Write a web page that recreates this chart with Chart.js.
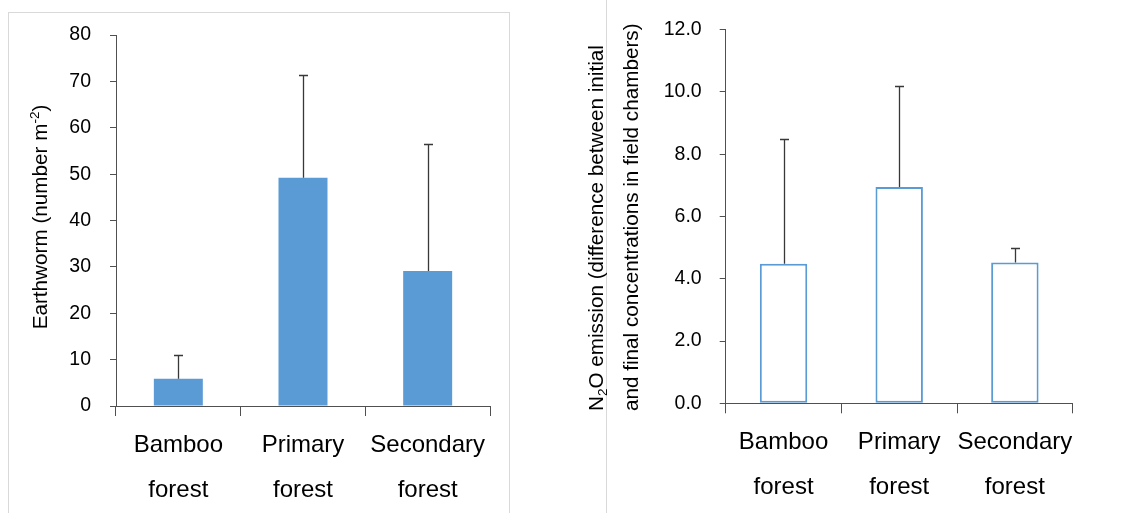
<!DOCTYPE html>
<html><head><meta charset="utf-8">
<script src="https://cdn.jsdelivr.net/npm/chart.js@4.4.1/dist/chart.umd.min.js"></script>
<style>
html,body{margin:0;padding:0;background:#fff;width:1133px;height:513px;overflow:hidden;position:relative}
#c1{position:absolute;left:0;top:0}
#c2{position:absolute;left:560px;top:0}
#box1{position:absolute;left:8px;top:12px;width:500px;height:520px;border:1px solid #d9d9d9;}
#line2{position:absolute;left:606px;top:0;width:1px;height:513px;background:#d9d9d9}
</style></head><body>
<div id="box1"></div><div id="line2"></div>
<canvas id="c1" width="560" height="513"></canvas>
<canvas id="c2" width="573" height="513"></canvas>
<script>
// ---- data ----
const categories = [["Bamboo","forest"],["Primary","forest"],["Secondary","forest"]];
const earthwormMeans = [5.9, 49.2, 29.1];
const earthwormErrors = [5.2, 22.2, 27.3];
const earthwormTicks = ["0","10","20","30","40","50","60","70","80"];
const n2oMeans = [4.48, 6.95, 4.52];
const n2oErrors = [4.0, 3.23, 0.46];
const n2oTicks = ["0.0","2.0","4.0","6.0","8.0","10.0","12.0"];

const FONT = '"Liberation Sans", Arial, sans-serif';
Chart.defaults.font.family = FONT;
Chart.defaults.color = '#000';
const AXIS = '#505050';

function errorBarPlugin(errors){
  return {
    id:'errorBars',
    afterDatasetsDraw(chart){
      const ctx = chart.ctx, y = chart.scales.y;
      const meta = chart.getDatasetMeta(0);
      const ds = chart.data.datasets[0];
      ctx.save();
      ctx.strokeStyle = '#383838'; ctx.lineWidth = 1.3;
      meta.data.forEach((bar,i)=>{
        const v = ds.data[i], e = errors[i];
        const yTop = Math.round(y.getPixelForValue(v+e))+0.5;
        const yBase = y.getPixelForValue(v);
        const x = Math.round(bar.x)+0.5;
        ctx.beginPath();
        ctx.moveTo(x, yBase); ctx.lineTo(x, yTop);
        ctx.moveTo(x-4.5, yTop); ctx.lineTo(x+4.5, yTop);
        ctx.stroke();
      });
      ctx.restore();
    }
  };
}

function titlePlugin(lines){
  return {
    id:'rotTitle',
    afterDraw(chart){
      const ctx = chart.ctx;
      lines.forEach(L=>{
        ctx.save();
        ctx.fillStyle = '#000';
        ctx.textBaseline = 'alphabetic';
        ctx.textAlign = 'left';
        let total = 0;
        L.segs.forEach(s=>{ ctx.font = s.size+'px '+FONT; total += ctx.measureText(s.t).width; });
        ctx.translate(L.x, L.y);
        ctx.rotate(-Math.PI/2);
        let cx = L.align==='center' ? -total/2 : 0;
        L.segs.forEach(s=>{
          ctx.font = s.size+'px '+FONT;
          ctx.fillText(s.t, cx, s.dy||0);
          cx += ctx.measureText(s.t).width;
        });
        ctx.restore();
      });
    }
  };
}

function makeChart(id, opts){
  return new Chart(document.getElementById(id), {
    type:'bar',
    data:{ labels: categories, datasets:[opts.dataset] },
    options:{
      responsive:false, animation:false,
      layout:{ padding: opts.padding },
      plugins:{ legend:{display:false}, tooltip:{enabled:false} },
      scales:{
        x:{
          grid:{ display:true, drawOnChartArea:false, drawTicks:true, tickLength:10, color:AXIS, offset:true },
          border:{ display:true, color:AXIS, width:1 },
          ticks:{ font:{size:24, lineHeight:1.875}, color:'#000', padding:opts.xPad, maxRotation:0, autoSkip:false },
          afterFit(s){ s.height = opts.xHeight; }
        },
        y:{
          min:0, max:opts.max,
          grid:{ display:true, drawOnChartArea:false, drawTicks:true, tickLength:6, color:AXIS },
          border:{ display:true, color:AXIS, width:1 },
          ticks:{ stepSize:opts.step, font:{size:19.5}, color:'#000', padding:opts.yPad,
                  callback:(v,i)=>opts.tickLabels[i] },
          afterFit(s){ s.width = opts.yWidth; }
        }
      }
    },
    plugins:[errorBarPlugin(opts.errors), titlePlugin(opts.titles)]
  });
}

makeChart('c1', {
  dataset:{ data: earthwormMeans, backgroundColor:'#5b9bd5', borderWidth:0,
            barPercentage:0.393, categoryPercentage:1 },
  errors: earthwormErrors,
  padding:{ top:35, right:70, bottom:0, left:0 },
  xHeight: 107, yWidth: 116, xPad: 7, yPad: 19,
  max:80, step:10, tickLabels: earthwormTicks,
  titles:[{ x:47, y:217, align:'center', segs:[
    {t:'Earthworm (number m', size:20.7},
    {t:'-2', size:13.5, dy:-8},
    {t:')', size:20.7}
  ]}]
});

makeChart('c2', {
  dataset:{ data: n2oMeans, backgroundColor:'#ffffff', borderColor:'#5b9bd5', borderWidth:2,
            borderSkipped:false, barPercentage:0.41, categoryPercentage:1 },
  errors: n2oErrors,
  padding:{ top:23.3, right:60.3, bottom:0, left:0 },
  xHeight: 109.7, yWidth: 165.7, xPad: 7, yPad: 18,
  max:12, step:2, tickLabels: n2oTicks,
  titles:[
    { x:43, y:411, align:'left', segs:[
      {t:'N', size:20.7},{t:'2', size:13.5, dy:4},{t:'O emission (difference between initial', size:20.7}
    ]},
    { x:78, y:411, align:'left', segs:[
      {t:'and final concentrations in field chambers)', size:20.7}
    ]}
  ]
});
</script>
</body></html>
